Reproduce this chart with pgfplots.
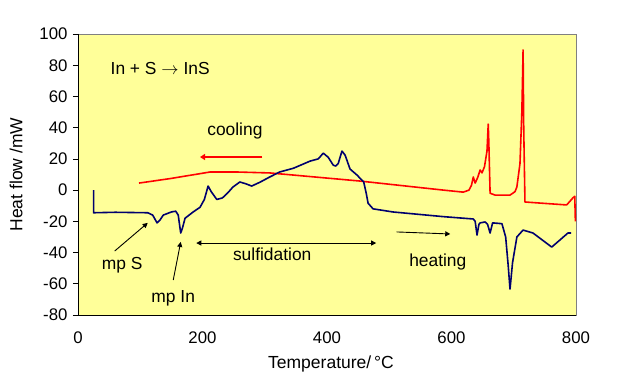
\documentclass[border=0pt]{standalone}
\usepackage{pgfplots}
\pgfplotsset{compat=1.18}
\usepackage{fontspec}
\setmainfont{Liberation Sans}
\usetikzlibrary{arrows.meta}
\definecolor{bgyellow}{RGB}{255,255,153}
\definecolor{navy}{RGB}{0,0,110}
\begin{document}
\begin{tikzpicture}
\begin{axis}[
  name=ax,
  scale only axis,
  width=498pt, height=281pt,
  xmin=0, xmax=800, ymin=-80, ymax=100,
  xtick={0,200,400,600,800},
  ytick={-80,-60,...,100},
  /pgf/number format/assume math mode=true,
  ticklabel style={font=\fontsize{16.8}{19}\selectfont},
  xtick style={draw=none},
  ytick pos=left,
  tick align=outside,
  major tick length=5pt,
  ytick style={black, line width=0.6pt},
  axis background/.style={fill=bgyellow},
  axis line style={draw=gray, line width=0.8pt},
  xticklabel style={yshift=-8pt},
  yticklabel style={xshift=-2pt},
  xlabel={Temperature/\,°C},
  ylabel={Heat flow /mW},
  label style={font=\fontsize{17.5}{20}\selectfont},
  xlabel style={yshift=-6pt, xshift=4pt},
  ylabel style={yshift=10pt},
  clip=false,
]
\draw[black, line width=0.9pt] (axis cs:0,100) -- (axis cs:0,-80) -- (axis cs:800,-80);
\addplot[red, line width=1.6pt, line join=round] coordinates {
(98,4.5)(150,7.5)(212,11.6)(255,11.6)(308,11)(453,5.8)(587,0)(619,-1.3)(628,0)(632,3)(635,8.4)(638,4.5)(642,8)(646,12.9)(649,11)(653,15)(657,25)(659,42.3)(660,30)(662,-2)(670,-3.2)(694,-3.2)(702,-1)(705,2)(710,17)(713,50)(715,89.8)(716,40)(718,-7.6)(742,-8.3)(785,-9.5)(795,-5)(798,-4)(799,-20)
};
\addplot[navy, line width=1.6pt, line join=round] coordinates {
(25,0)(25,-14.5)(60,-14.2)(112,-14.5)(120,-16)(127,-21)(132,-19)(137,-16)(150,-14)(157,-13.5)(161,-16)(165,-27.5)(168,-24)(172,-18)(185,-14)(196,-11)(203,-6)(209,2.6)(214,-1)(223,-6)(232,-5)(240,-2)(249,2)(260,5.2)(270,4)(279,2.6)(292,5)(308,8.4)(324,11.6)(346,14)(373,18.6)(386,20)(394,23.7)(402,21)(410,16)(414,15.4)(418,17)(424,25)(429,22.5)(437,13.5)(448,9.7)(459,5.2)(463,-2)(466,-8.4)(474,-12)(506,-14)(587,-17)(635,-18.5)(638,-20)(641,-28.8)(644,-22)(646,-21)(654,-20.4)(658,-22)(662,-27.5)(666,-21)(681,-21.5)(687,-30)(691,-48)(694,-63.4)(698,-46.7)(705,-30)(715,-25.6)(731,-27.5)(761,-36.5)(774,-32)(787,-27.5)(792,-27.5)
};
\draw[red, line width=1.6pt, -{Triangle[length=5pt,width=6pt]}] (axis cs:296,21.2) -- (axis cs:196,21.2);
\draw[black, line width=0.9pt, {Triangle[length=5pt,width=5pt]}-{Triangle[length=5pt,width=5pt]}] (axis cs:190,-33.9) -- (axis cs:479,-33.9);
\draw[black, line width=0.9pt, -{Triangle[length=5pt,width=5pt]}] (axis cs:512,-26.8) -- (axis cs:598,-28.1);
\draw[black, line width=0.9pt, -{Triangle[length=5pt,width=5pt]}] (axis cs:59,-39) -- (axis cs:112,-21);
\draw[black, line width=0.9pt, -{Triangle[length=5pt,width=5pt]}] (axis cs:153,-57.6) -- (axis cs:165,-33.2);
\begin{scope}[every node/.style={font=\fontsize{17.4}{20}\selectfont}]
\node at (axis cs:132,78) {In + S $\rightarrow$ InS};
\node at (axis cs:252,37.8) {cooling};
\node at (axis cs:312,-41) {sulfidation};
\node at (axis cs:578,-46) {heating};
\node at (axis cs:71,-48) {mp S};
\node at (axis cs:153,-69) {mp In};
\end{scope}
\end{axis}
\pgfresetboundingbox
\path[use as bounding box] ([xshift=-78pt,yshift=-75pt]ax.south west) rectangle ([xshift=44pt,yshift=34pt]ax.north east);
\end{tikzpicture}
\end{document}
